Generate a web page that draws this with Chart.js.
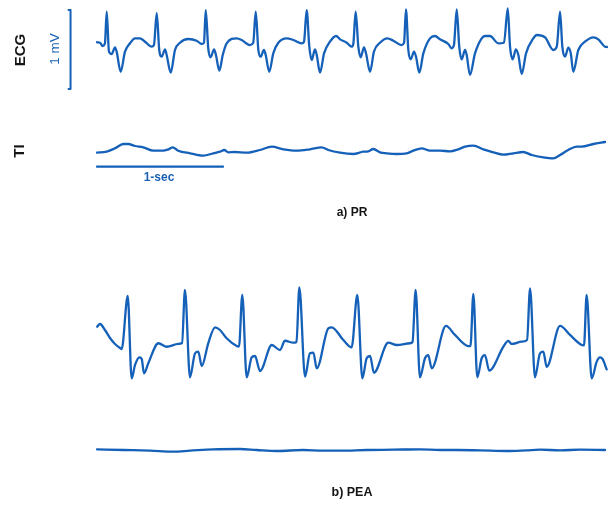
<!DOCTYPE html>
<html>
<head>
<meta charset="utf-8">
<script src="https://cdn.jsdelivr.net/npm/chart.js@4"></script>
<style>
  body { margin: 0; background: #fff; }
  #wrap { position: relative; width: 608px; height: 505px; overflow: hidden; }
  #traces { position: absolute; left: 0; top: 0; }
  .lbl { position: absolute; font-family: "Liberation Sans", Arial, sans-serif; white-space: nowrap; transform: translate(-50%, -50%); line-height: 1; }
  .rot { transform: translate(-50%, -50%) rotate(-90deg); }
  .blk { color: #151515; font-weight: bold; }
  .blu { color: #1b62b6; }
</style>
</head>
<body>
<div id="wrap">
  <canvas id="traces" width="608" height="505"></canvas>
  <div class="lbl rot blk" style="left:18.5px; top:50px; font-size:15px;">ECG</div>
  <div class="lbl rot blk" style="left:18px; top:151px; font-size:15px;">TI</div>
  <div class="lbl rot blu" style="left:55px; top:49px; font-size:13.5px;">1 mV</div>
  <div class="lbl blu" style="left:159px; top:177px; font-size:12px; font-weight:bold;">1-sec</div>
  <div class="lbl blk" style="left:352px; top:212px; font-size:12px;">a) PR</div>
  <div class="lbl blk" style="left:352px; top:492px; font-size:12.5px;">b) PEA</div>
</div>
<script>
// a) PR - ECG (time in s, amplitude in mV)
let ecgPrTime = [0.0, 0.024, 0.045, 0.063, 0.077, 0.095, 0.117, 0.143, 0.156, 0.188, 0.222, 0.262, 0.302, 0.341, 0.381, 0.434, 0.452,
  0.474, 0.494, 0.513, 0.540, 0.553, 0.585, 0.619, 0.659, 0.725, 0.791, 0.831, 0.849,
  0.863, 0.883, 0.902, 0.929, 0.944, 0.971, 0.998, 1.029, 1.109, 1.148, 1.214, 1.240,
  1.260, 1.280, 1.299, 1.325, 1.339, 1.367, 1.399, 1.439, 1.506, 1.558, 1.625, 1.643,
  1.664, 1.685, 1.704, 1.730, 1.744, 1.770, 1.802, 1.849, 1.897, 1.929, 1.982, 2.021, 2.034,
  2.053, 2.074, 2.093, 2.119, 2.135, 2.167, 2.198, 2.246, 2.304, 2.352, 2.418, 2.437,
  2.452, 2.471, 2.490, 2.516, 2.532, 2.558, 2.590, 2.643, 2.683, 2.722, 2.788, 2.815, 2.833,
  2.855, 2.875, 2.894, 2.921, 2.934, 2.960, 3.000, 3.053, 3.079, 3.119, 3.185, 3.230,
  3.260, 3.278, 3.299, 3.325, 3.344, 3.371, 3.405, 3.463, 3.490, 3.556, 3.622, 3.649,
  3.675, 3.693, 3.714, 3.741, 3.760, 3.780, 3.820, 3.873, 3.939, 3.979, 4.032, 4.048];
let ecgPrMv = [0.022, 0.016, -0.025, 0.009, 0.409, -0.097, -0.127, -0.042, -0.097, -0.351, -0.097, 0.009, 0.072, 0.072, 0.029, -0.034, -0.013,
  0.389, -0.076, -0.161, -0.067, -0.139, -0.363, -0.076, 0.016, 0.063, 0.042, 0.0, 0.016,
  0.430, -0.054, -0.168, -0.067, -0.139, -0.338, -0.139, 0.009, 0.072, 0.051, -0.013, 0.016,
  0.409, -0.067, -0.161, -0.076, -0.139, -0.351, -0.118, 0.016, 0.072, 0.051, 0.009, 0.029,
  0.430, -0.034, -0.203, -0.067, -0.139, -0.363, -0.118, 0.029, 0.101, 0.059, 0.016, -0.034, 0.0,
  0.409, -0.034, -0.168, -0.042, -0.118, -0.351, -0.097, 0.016, 0.072, 0.042, -0.013, 0.016,
  0.439, -0.076, -0.194, -0.097, -0.161, -0.363, -0.118, 0.072, 0.101, 0.059, 0.0, -0.054, -0.013,
  0.439, -0.034, -0.194, -0.076, -0.139, -0.392, -0.118, 0.072, 0.101, 0.101, 0.009, 0.016,
  0.452, -0.034, -0.194, -0.067, -0.139, -0.380, -0.118, 0.072, 0.114, 0.085, -0.076, -0.034,
  0.409, -0.034, -0.161, -0.047, -0.118, -0.351, -0.076, 0.029, 0.085, 0.059, -0.034, -0.038];

// a) PR - thoracic impedance (relative units)
let tiPrTime = [0.0, 0.077, 0.143, 0.209, 0.248, 0.302, 0.367, 0.447, 0.526, 0.566, 0.601, 0.645, 0.738, 0.844, 0.923, 0.976,
  1.010, 1.042, 1.095, 1.188, 1.294, 1.387, 1.479, 1.585, 1.690, 1.783, 1.836, 1.929, 2.034, 2.113, 2.153, 2.193,
  2.246, 2.299, 2.379, 2.458, 2.510, 2.577, 2.643, 2.722, 2.802, 2.867, 2.921, 2.987, 3.066, 3.145, 3.225, 3.304,
  3.383, 3.450, 3.542, 3.621, 3.675, 3.740, 3.807, 3.847, 3.939, 4.032];
let tiPrVal = [-0.07, 0.03, 0.37, 0.80, 0.80, 0.60, 0.47, 0.13, 0.13, 0.27, 0.47, 0.13, -0.13, -0.37, -0.13, 0.03,
  0.20, -0.03, 0.0, -0.07, 0.20, 0.53, 0.27, 0.13, 0.27, 0.47, 0.20, -0.07, -0.20, 0.03, 0.07, 0.30,
  -0.03, -0.13, -0.20, -0.13, 0.13, 0.37, 0.13, 0.13, 0.07, 0.27, 0.53, 0.63, 0.27, -0.03, -0.27, -0.13,
  0.0, -0.30, -0.53, -0.63, -0.30, 0.20, 0.53, 0.53, 0.80, 1.00];

// b) PEA - ECG
let ecgPeaTime = [0.002, 0.024, 0.063, 0.103, 0.143, 0.183, 0.196, 0.244, 0.275, 0.302, 0.336, 0.355, 0.373, 0.407, 0.487, 0.553, 0.645, 0.675,
  0.698, 0.738, 0.778, 0.804, 0.831, 0.883, 0.937, 0.976, 1.029, 1.109, 1.127,
  1.153, 1.188, 1.228, 1.254, 1.294, 1.387, 1.452, 1.492, 1.558, 1.583,
  1.606, 1.651, 1.690, 1.717, 1.744, 1.836, 1.863, 1.955, 2.021,
  2.066, 2.106, 2.140, 2.167, 2.198, 2.312, 2.379, 2.484, 2.504,
  2.529, 2.563, 2.603, 2.629, 2.656, 2.770, 2.841, 2.947, 2.964,
  2.987, 3.018, 3.053, 3.079, 3.113, 3.225, 3.264, 3.291, 3.371, 3.413,
  3.437, 3.476, 3.516, 3.542, 3.569, 3.675, 3.754, 3.833, 3.865,
  3.886, 3.926, 3.966, 3.992, 4.012, 4.045];
let ecgPeaMv = [0.232, 0.266, 0.190, 0.089, 0.013, -0.038, -0.051, 0.620, -0.422, -0.253, -0.156, -0.177, -0.358, -0.232, 0.022, -0.022, 0.013, 0.025,
  0.696, -0.409, -0.105, -0.085, -0.266, 0.022, 0.224, 0.190, 0.085, -0.013, -0.019,
  0.633, -0.409, -0.156, -0.139, -0.329, 0.0, -0.063, 0.054, 0.029, 0.038,
  0.730, -0.401, -0.105, -0.097, -0.295, 0.211, 0.224, 0.063, -0.029,
  0.633, -0.422, -0.168, -0.139, -0.351, 0.029, 0.0, 0.022, 0.038,
  0.696, -0.409, -0.168, -0.127, -0.295, 0.241, 0.127, -0.013, -0.013,
  0.646, -0.409, -0.168, -0.127, -0.325, -0.022, 0.051, 0.013, 0.042, 0.063,
  0.718, -0.409, -0.105, -0.085, -0.275, 0.241, 0.127, 0.013, -0.006,
  0.633, -0.422, -0.211, -0.156, -0.177, -0.308];

// b) PEA - thoracic impedance
let tiPeaTime = [0.0, 0.209, 0.421, 0.606, 0.738, 0.923, 1.135, 1.267, 1.426, 1.637, 1.796, 1.929,
  2.140, 2.352, 2.563, 2.722, 2.855, 3.040, 3.252, 3.410, 3.516, 3.675, 3.833, 4.032];
let tiPeaVal = [0.07, 0.0, -0.07, -0.17, -0.07, 0.07, 0.10, 0.0, -0.10, 0.0, -0.07, -0.07,
  0.0, 0.03, 0.07, 0.0, 0.0, -0.03, -0.10, -0.03, 0.03, -0.03, 0.03, 0.0];

// calibration bars: 1 mV (on the PR ECG) and 1 s (under the PR TI)
let mvBarTime = [-0.226, -0.210, -0.210, -0.226];
let mvBarMv = [0.43, 0.43, -0.57, -0.57];
let secBarTime = [0, 1];
let secBarVal = [-1.47, -1.47];

// page layout: px per second / px per mV / baselines
const pxPerSec = 126, x0 = 97;
const pxPerMv = 79;
const pxPerTi = 10;
const W = 608, H = 505;

function pts(xs, ys) {
  return xs.map(function (x, i) { return { x: x, y: ys[i] }; });
}

// a y-scale whose value 0 sits at pixel row "base"
function yRange(base, perUnit) {
  return { type: 'linear', display: false, min: (base - H) / perUnit, max: base / perUnit };
}

const blue = '#1560b8';

function line(data, axis, width, smooth) {
  return {
    data: data, yAxisID: axis, borderColor: blue, borderWidth: width,
    pointRadius: 0, fill: false, clip: false,
    cubicInterpolationMode: smooth ? 'monotone' : 'default',
    tension: 0,
    borderJoinStyle: 'round', borderCapStyle: 'round'
  };
}

let config = {
  type: 'line',
  data: {
    datasets: [
      line(pts(ecgPrTime, ecgPrMv), 'yEcgA', 2.3, true),
      line(pts(tiPrTime, tiPrVal), 'yTiA', 2.3, true),
      line(pts(ecgPeaTime, ecgPeaMv), 'yEcgB', 2.3, true),
      line(pts(tiPeaTime, tiPeaVal), 'yTiB', 2.3, true),
      line(pts(mvBarTime, mvBarMv), 'yEcgA', 2, false),
      line(pts(secBarTime, secBarVal), 'yTiA', 2.3, false)
    ]
  },
  options: {
    responsive: false,
    animation: false,
    devicePixelRatio: 1,
    layout: { padding: 0 },
    plugins: { legend: { display: false }, tooltip: { enabled: false }, title: { display: false } },
    scales: {
      x: { type: 'linear', display: false, min: -x0 / pxPerSec, max: (W - x0) / pxPerSec },
      yEcgA: yRange(44, pxPerMv),
      yTiA: yRange(152, pxPerTi),
      yEcgB: yRange(345, pxPerMv),
      yTiB: yRange(450, pxPerTi)
    }
  }
};

let myChart = new Chart(document.getElementById('traces'), config);
</script>
</body>
</html>
